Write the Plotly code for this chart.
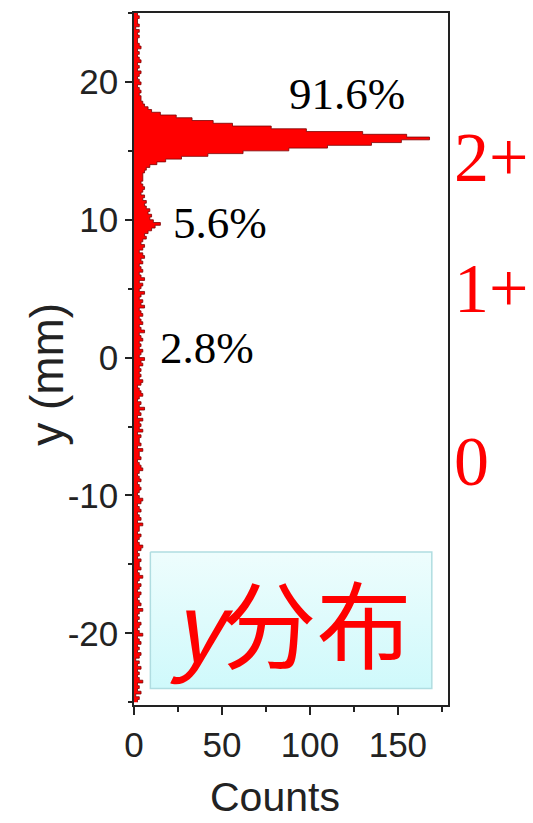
import numpy as np
import plotly.graph_objects as go

# Histogram of hit positions along y: 0.2 mm bins from -25 mm to +25 mm
bin_start = -25.0
bin_width = 0.2
counts = [
    2, 3, 1, 4, 2, 3, 2, 5, 3, 2,        # -25 .. -23
    3, 2, 4, 2, 3, 1, 3, 4, 2, 3,        # -23 .. -21
    2, 4, 3, 2, 5, 3, 2, 3, 4, 2,        # -21 .. -19
    3, 2, 3, 5, 2, 4, 3, 2, 3, 4,        # -19 .. -17
    2, 3, 4, 2, 3, 5, 3, 2, 4, 3,        # -17 .. -15
    3, 4, 2, 3, 2, 4, 5, 3, 2, 3,        # -15 .. -13
    4, 2, 3, 3, 5, 2, 4, 3, 2, 4,        # -13 .. -11
    3, 2, 4, 5, 3, 2, 3, 4, 3, 2,        # -11 .. -9
    4, 3, 2, 3, 5, 4, 3, 2, 4, 3,        # -9 .. -7
    3, 5, 2, 4, 3, 3, 4, 2, 5, 3,        # -7 .. -5
    4, 3, 5, 2, 4, 3, 6, 3, 4, 2,        # -5 .. -3
    3, 5, 4, 3, 2, 4, 5, 3, 4, 3,        # -3 .. -1
    4, 3, 5, 4, 6, 3, 4, 5, 3, 4,        # -1 .. 1
    3, 5, 4, 3, 6, 4, 3, 5, 4, 3,        # 1 .. 3
    5, 4, 3, 6, 4, 5, 3, 4, 6, 3,        # 3 .. 5
    4, 5, 3, 6, 4, 3, 5, 4, 3, 5,        # 5 .. 7
    4, 6, 5, 3, 5, 6, 4, 5, 7, 6,        # 7 .. 9
    8, 10, 12, 15, 11, 9, 10, 8, 9, 7,   # 9 .. 11
    6, 7, 5, 6, 4, 5, 6, 5, 4, 5,        # 11 .. 13
    5, 5, 6, 7, 9, 13, 18, 27, 42, 62,   # 13 .. 15
    88, 110, 135, 152, 168, 155, 130, 98, 78, 56,  # 15 .. 17
    45, 33, 24, 15, 10, 8, 6, 5, 4, 4,   # 17 .. 19
    3, 4, 3, 2, 4, 3, 2, 3, 4, 2,        # 19 .. 21
    3, 2, 4, 3, 2, 3, 2, 4, 3, 2,        # 21 .. 23
    2, 3, 2, 3, 1, 3, 2, 2, 3, 2,        # 23 .. 25
]

# Charge-state fractions and labels
fraction_labels = ["91.6%", "5.6%", "2.8%"]
fraction_pos_y = [19.1, 9.8, 0.7]
fraction_pos_x = [87.0, 21.0, 13.6]
charge_labels = ["2+", "1+", "0"]
charge_pos_y = [14.55, 5.0, -7.55]

x_ticks = [0, 50, 100, 150]
x_ticktext = ["0", "50", "100", "150"]
y_ticks = [-20, -10, 0, 10, 20]
y_ticktext = ["-20", "-10", "0", "10", "20"]

# Step outline of the histogram (two points per bin)
counts_arr = np.asarray(counts, dtype=float)
lo = bin_start + bin_width * np.arange(len(counts_arr))
hi = lo + bin_width
step_y = np.column_stack([lo, hi]).ravel()
step_x = np.repeat(counts_arr, 2)

fig = go.Figure()

fig.add_trace(go.Scatter(
    x=step_x, y=step_y,
    mode="lines",
    line=dict(color="#7a0000", width=0.8),
    fill="tozerox",
    fillcolor="#ff0000",
    hoverinfo="skip",
    showlegend=False,
))

# Label box with a soft cyan vertical gradient
box_x = [9.3, 169.3, 169.3, 9.3, 9.3]
box_y = [-14.1, -14.1, -24.0, -24.0, -14.1]
fig.add_trace(go.Scatter(
    x=box_x, y=box_y,
    mode="lines",
    line=dict(color="#b0dde1", width=1.5),
    fill="toself",
    fillgradient=dict(type="vertical",
                      colorscale=[[0, "#cff9fb"], [1, "#eefdfd"]]),
    hoverinfo="skip",
    showlegend=False,
))

serif = "Times New Roman, Liberation Serif, serif"
sans = "Arial, Liberation Sans, sans-serif"

annotations = []
for txt, xx, yy in zip(fraction_labels, fraction_pos_x, fraction_pos_y):
    annotations.append(dict(
        x=xx, y=yy, xref="x", yref="y", text=txt, showarrow=False,
        xanchor="left", yanchor="middle",
        font=dict(family=serif, size=45, color="#000000"),
    ))
for txt, yy in zip(charge_labels, charge_pos_y):
    annotations.append(dict(
        x=1.013, y=yy, xref="paper", yref="y", text=txt, showarrow=False,
        xanchor="left", yanchor="middle",
        font=dict(family=serif, size=70, color="#ff0000"),
    ))

# Box caption
annotations.append(dict(
    x=89.5, y=-19.1, xref="x", yref="y",
    text="<i>y</i>分布", showarrow=False,
    xanchor="center", yanchor="middle",
    font=dict(family="Noto Sans CJK SC, sans-serif", size=95, color="#ff0000"),
))

# Axis titles
annotations.append(dict(
    x=0.45, y=-0.1686, xref="paper", yref="paper", text="Counts",
    showarrow=False, xanchor="center", yanchor="bottom",
    font=dict(family=sans, size=41, color="#222222"),
))
annotations.append(dict(
    x=-0.275, y=0.478, xref="paper", yref="paper", text="y (mm)",
    showarrow=False, xanchor="center", yanchor="middle", textangle=-90,
    font=dict(family=sans, size=46, color="#222222"),
))

fig.update_layout(
    width=533, height=823,
    margin=dict(l=134, r=85, t=11, b=118),
    paper_bgcolor="white",
    plot_bgcolor="white",
    annotations=annotations,
    showlegend=False,
)

fig.update_xaxes(
    range=[0, 178.5],
    tickvals=x_ticks, ticktext=x_ticktext,
    ticks="outside", ticklen=8, tickwidth=1.5, tickcolor="#222222",
    minor=dict(ticks="outside", dtick=25, tick0=25, ticklen=5,
               tickwidth=1.5, tickcolor="#222222", showgrid=False),
    showline=True, linecolor="#222222", linewidth=1.5, mirror=True,
    showgrid=False, zeroline=False,
    tickfont=dict(family=sans, size=35, color="#222222"),
)
fig.update_yaxes(
    range=[-25.2, 25],
    tickvals=y_ticks, ticktext=y_ticktext,
    ticks="outside", ticklen=7, tickwidth=1.5, tickcolor="#222222",
    minor=dict(ticks="outside", dtick=10, tick0=5, ticklen=4,
               tickwidth=1.5, tickcolor="#222222", showgrid=False),
    showline=True, linecolor="#222222", linewidth=1.5, mirror=True,
    showgrid=False, zeroline=False,
    tickfont=dict(family=sans, size=35, color="#222222"),
)

fig.write_html("out.html")
